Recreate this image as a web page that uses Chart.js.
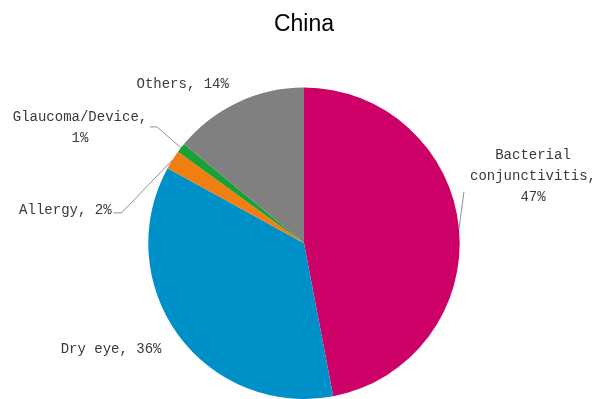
<!DOCTYPE html>
<html>
<head>
<meta charset="utf-8">
<script src="https://cdn.jsdelivr.net/npm/chart.js@4/dist/chart.umd.min.js"></script>
<style>
html,body{margin:0;padding:0;background:#fff;}
#wrap{width:596px;height:399px;position:relative;}
</style>
</head>
<body>
<div id="wrap"><canvas id="c" width="596" height="399"></canvas></div>
<script>
const title = "China";
const categories = ["Bacterial conjunctivitis", "Dry eye", "Allergy", "Glaucoma/Device", "Others"];
const values = [47, 36, 2, 1, 14];
const colors = ["#CC0066", "#0090C8", "#F07E10", "#1AA035", "#808080"];

// label placement relative to the outer edge at each slice's mid angle
const labelLayout = [
  {wrap: true,  align: "center", dx: 74,  dy: -52, leader: [[5, -37]]},
  {wrap: false, align: "center", dx: -67, dy: 14,  leader: null},
  {wrap: false, align: "right",  dx: -61, dy: 50,  leader: [[-51, 53], [-59, 53]]},
  {wrap: true,  align: "center", dx: -101, dy: -20, leader: [[-24, -21], [-31, -21]]},
  {wrap: false, align: "center", dx: -55, dy: -18, leader: null}
];

const labelPlugin = {
  id: "sliceLabels",
  afterDatasetsDraw(chart) {
    const ctx = chart.ctx;
    const meta = chart.getDatasetMeta(0);
    ctx.save();
    ctx.font = "14px 'Liberation Mono', monospace";
    ctx.fillStyle = "#3a3a3a";
    ctx.textBaseline = "middle";
    meta.data.forEach((arc, i) => {
      const p = arc.getProps(["x", "y", "startAngle", "endAngle", "outerRadius"], true);
      const mid = (p.startAngle + p.endAngle) / 2;
      const ex = p.x + Math.cos(mid) * p.outerRadius;
      const ey = p.y + Math.sin(mid) * p.outerRadius;
      const L = labelLayout[i];
      if (L.leader) {
        ctx.strokeStyle = "#909090";
        ctx.lineWidth = 1;
        ctx.beginPath();
        ctx.moveTo(ex, ey);
        L.leader.forEach(pt => ctx.lineTo(ex + pt[0], ey + pt[1]));
        ctx.stroke();
      }
      const text = categories[i] + ", " + values[i] + "%";
      const lines = L.wrap ? text.split(" ") : [text];
      const lh = 21;
      const cx = ex + L.dx;
      const cy = ey + L.dy;
      ctx.textAlign = L.align;
      lines.forEach((ln, k) => {
        ctx.fillText(ln, cx, cy + (k - (lines.length - 1) / 2) * lh);
      });
    });
    ctx.restore();
  }
};

new Chart(document.getElementById("c"), {
  type: "pie",
  data: {
    labels: categories,
    datasets: [{
      data: values,
      backgroundColor: colors,
      borderWidth: 0
    }]
  },
  options: {
    responsive: false,
    animation: false,
    layout: {padding: {left: 148, right: 136, top: 0, bottom: 0}},
    plugins: {
      legend: {display: false},
      tooltip: {enabled: false},
      title: {
        display: true,
        text: title,
        color: "#000",
        font: {family: "'Liberation Sans', Arial, sans-serif", size: 23, weight: "normal"},
        padding: {top: 11, bottom: 49}
      }
    }
  },
  plugins: [labelPlugin]
});
</script>
</body>
</html>
